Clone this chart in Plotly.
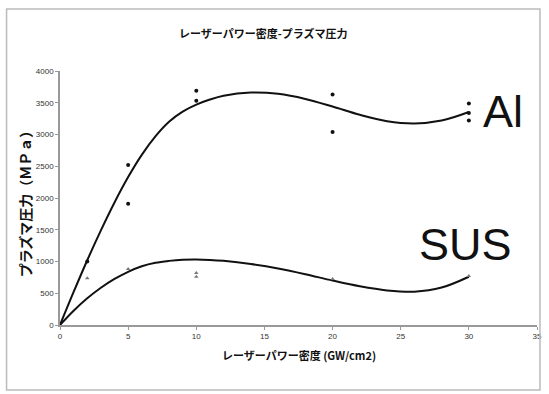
import plotly.graph_objects as go

# Measured data points
al_x = [2, 5, 5, 10, 10, 20, 20, 30, 30, 30]
al_y = [1000, 2520, 1910, 3690, 3530, 3630, 3040, 3490, 3340, 3220]
sus_x = [2, 5, 10, 10, 20, 30]
sus_y = [735, 880, 760, 820, 725, 770]

# Trend curves
al_curve_x = [0, 1, 2, 3, 4, 5, 6, 7, 8, 9, 10, 11, 12, 14, 16, 18, 20, 22, 24, 26, 28, 30]
al_curve_y = [0, 520, 1020, 1490, 1930, 2330, 2680, 2970, 3200, 3360, 3470, 3550, 3610, 3660, 3640, 3560, 3440, 3310, 3210, 3175, 3220, 3355]
sus_curve_x = [0, 1, 2, 3, 4, 5, 6, 7, 8, 9, 10, 11, 12, 14, 16, 18, 20, 22, 24, 26, 28, 30]
sus_curve_y = [0, 225, 420, 586, 725, 838, 925, 980, 1010, 1028, 1032, 1025, 1010, 960, 890, 800, 700, 610, 545, 525, 590, 760]

x_ticks = [0, 5, 10, 15, 20, 25, 30, 35]
y_ticks = [0, 500, 1000, 1500, 2000, 2500, 3000, 3500, 4000]

fig = go.Figure()
fig.add_trace(go.Scatter(x=al_curve_x, y=al_curve_y, mode="lines", line=dict(color="#111", width=2, shape="spline", smoothing=1.0), hoverinfo="skip", showlegend=False))
fig.add_trace(go.Scatter(x=sus_curve_x, y=sus_curve_y, mode="lines", line=dict(color="#111", width=2, shape="spline", smoothing=1.0), hoverinfo="skip", showlegend=False))
fig.add_trace(go.Scatter(x=al_x, y=al_y, mode="markers", marker=dict(symbol="circle", size=4, color="#111"), showlegend=False))
fig.add_trace(go.Scatter(x=sus_x, y=sus_y, mode="markers", marker=dict(symbol="triangle-up", size=4, color="#777"), showlegend=False))

L, R, T, B = 60, 7, 71, 69
W, H = 549, 394
pw, ph = W - L - R, H - T - B

def px(x):
    return (x - L) / pw

def py(y):
    return (H - B - y) / ph

fig.update_layout(
    width=W, height=H,
    margin=dict(l=L, r=R, t=T, b=B),
    paper_bgcolor="white", plot_bgcolor="white",
    font=dict(family="Liberation Sans, Arial, sans-serif", color="#222"),
    xaxis=dict(range=[0, 35], tickvals=x_ticks, showgrid=False, zeroline=False,
               showline=True, linecolor="#999", linewidth=1.5,
               ticks="outside", ticklen=3, tickcolor="#999",
               tickfont=dict(size=8, color="#333")),
    yaxis=dict(range=[0, 4000], tickvals=y_ticks, showgrid=False, zeroline=False,
               showline=True, linecolor="#999", linewidth=1.5,
               ticks="outside", ticklen=3, tickcolor="#999",
               tickfont=dict(size=8, color="#333")),
    shapes=[dict(type="rect", xref="paper", yref="paper",
                 x0=px(6), x1=px(545), y0=py(390), y1=py(9),
                 line=dict(color="#bbb", width=1.5))],
    annotations=[
        dict(text="<b>レーザーパワー密度-プラズマ圧力</b>", xref="paper", yref="paper",
             x=px(266), y=py(33), showarrow=False, xanchor="center", yanchor="middle",
             font=dict(family="Noto Sans CJK JP", size=11, color="#111")),
        dict(text="<b>レーザーパワー密度 (GW/cm2)</b>", xref="paper", yref="paper",
             x=px(302), y=py(355), showarrow=False, xanchor="center", yanchor="middle",
             font=dict(family="Noto Sans CJK JP", size=11, color="#111")),
        dict(text="<b>プラズマ圧力（ＭＰａ）</b>", xref="paper", yref="paper",
             x=px(25), y=py(200), showarrow=False, textangle=-90, xanchor="center", yanchor="middle",
             font=dict(family="Noto Sans CJK JP", size=14, color="#111")),
        dict(text="Al", xref="paper", yref="paper", x=px(508), y=py(111), showarrow=False,
             xanchor="center", yanchor="middle",
             font=dict(family="Liberation Sans, Arial", size=45, color="#111")),
        dict(text="SUS", xref="paper", yref="paper", x=px(470), y=py(244), showarrow=False,
             xanchor="center", yanchor="middle",
             font=dict(family="Liberation Sans, Arial", size=45, color="#111")),
    ],
)

fig.write_html("out.html", config={"displayModeBar": False},
               post_script="document.body.style.margin='0';document.body.style.overflow='hidden';")
